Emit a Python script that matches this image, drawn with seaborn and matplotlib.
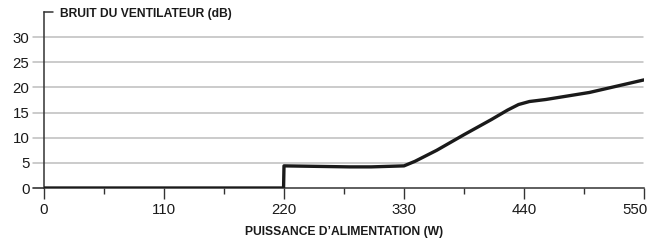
import matplotlib
matplotlib.use("Agg")
import matplotlib.pyplot as plt
import matplotlib.transforms as mtransforms
import seaborn as sns
import pandas as pd

power = [0, 219.6, 220, 250, 280, 300, 330, 340, 360, 385, 410, 425, 435, 445, 460, 480, 500, 520, 550]
noise = [0, 0, 4.4, 4.3, 4.2, 4.2, 4.4, 5.3, 7.5, 10.6, 13.6, 15.5, 16.6, 17.2, 17.6, 18.3, 19.0, 20.0, 21.5]
xticks_major = [0, 110, 220, 330, 440, 550]
yticks = [0, 5, 10, 15, 20, 25, 30]
ylabel = "BRUIT DU VENTILATEUR (dB)"
xlabel = "PUISSANCE D\u2019ALIMENTATION (W)"

sns.set_theme(style="white")
plt.rcParams['font.family'] = ['Liberation Sans', 'DejaVu Sans']

df = pd.DataFrame({"power": power, "noise": noise})
fig = plt.figure(figsize=(6.49, 2.4), dpi=100)
ax = fig.add_axes([44/649, 52/240, 600/649, 176/240])

sns.lineplot(data=df, x="power", y="noise", ax=ax, color="#1a1a1a", linewidth=2.4, zorder=5)

ax.set_xlim(0, 550)
ax.set_ylim(0, 35)
ax.set_yticks(yticks)
ax.set_xticks(xticks_major)
ax.set_xticks([55, 165, 275, 385, 495], minor=True)
for y in yticks[1:]:
    ax.axhline(y, color="#bdbdbd", linewidth=1.1, xmin=-11/600, xmax=0.998, clip_on=False, zorder=1)
ax.tick_params(axis="y", length=0, labelsize=10.8, colors="#1a1a1a", pad=10.5)
ax.tick_params(axis="x", which="major", length=8, width=1, color="#333333", labelsize=10.8, labelcolor="#1a1a1a", pad=3, bottom=True)
ax.tick_params(axis="x", which="minor", length=4, width=1, color="#333333", bottom=True)
ax.plot([-11/600*550, 0], [0, 0], color="#333333", linewidth=1.2, clip_on=False)

for s in ["top", "right"]:
    ax.spines[s].set_visible(False)
for s in ["left", "bottom"]:
    ax.spines[s].set_color("#333333")
    ax.spines[s].set_linewidth(1.1)
ax.spines["bottom"].set_bounds(0, 550)
ax.plot([0, 9/600*550], [35, 35], color="#333333", linewidth=1.1, clip_on=False)

ax.set_xlabel(xlabel, fontsize=8.7, fontweight="bold", color="#1a1a1a", labelpad=6)
ax.set_ylabel("")
ax.text(16/600*550, 34.6, ylabel, fontsize=8.7, fontweight="bold", color="#1a1a1a", va="center", ha="left")

fig.canvas.draw()
last = ax.get_xticklabels()[-1]
last.set_transform(last.get_transform() + mtransforms.ScaledTranslation(-9.5/100, 0, fig.dpi_scale_trans))

fig.savefig("out.png", dpi=100)
